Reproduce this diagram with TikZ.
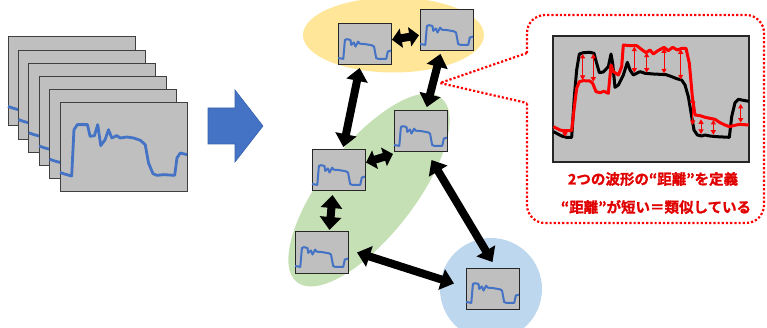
\documentclass[tikz,border=0pt]{standalone}
\usepackage{fontspec}
\IfFontExistsTF{Noto Sans CJK JP Black}
  {\newfontfamily\jp{Noto Sans CJK JP Black}[FakeBold=1.2]}
  {\newfontfamily\jp{Noto Sans CJK JP}[BoldFeatures={FakeBold=1.5}]}
\usetikzlibrary{arrows.meta,calc}
\definecolor{boxgray}{HTML}{BFBFBF}
\definecolor{wblue}{HTML}{4472C4}
\definecolor{wblueline}{HTML}{3A62AD}
\definecolor{groupyellow}{HTML}{FFE699}
\definecolor{groupgreen}{HTML}{C5E0B4}
\definecolor{groupblue}{HTML}{BDD7EE}
\definecolor{textred}{HTML}{E00000}

\tikzset{
  frame/.style={draw=black!75, fill=boxgray, line width=1pt, minimum width=127pt,
    minimum height=89pt, inner sep=0pt, outer sep=0pt, anchor=north west},
  thumb/.style={draw=black!85, fill=boxgray, line width=1pt, minimum width=53pt,
    minimum height=41pt, inner sep=0pt, outer sep=0pt, anchor=north west},
  wave/.style={draw=wblue, line join=round},
  link/.style={line width=8pt, {Triangle[length=13pt,width=21pt]}-{Triangle[length=13pt,width=21pt]}},
  shortlink/.style={line width=8pt, {Triangle[length=9.5pt,width=19pt]}-{Triangle[length=9.5pt,width=19pt]}},
  gap/.style={draw=red, line width=1pt, {Triangle[length=4.5pt,width=5pt]}-{Triangle[length=4.5pt,width=5pt]}},
  dotline/.style={draw=red, line width=2.2pt, dash pattern=on 2.2pt off 2pt},
  caption/.style={font=\jp\bfseries\fontsize{14.5}{16}\selectfont, inner sep=0pt}
}
% normalised waveform shapes
\newcommand\bigwave{(0,0.78) (0.04,0.80) (0.092,0.82) (0.11,0.30) (0.137,0.243) (0.216,0.243)
  (0.237,0.375) (0.271,0.367) (0.297,0.243) (0.321,0.479) (0.355,0.412) (0.382,0.300)
  (0.408,0.393) (0.447,0.367) (0.474,0.393) (0.526,0.382) (0.579,0.393) (0.632,0.419)
  (0.671,0.468) (0.697,0.674) (0.732,0.794) (0.763,0.813) (0.816,0.805) (0.903,0.813)
  (0.921,0.618) (0.947,0.562) (1.0,0.58)}
\newcommand\smallwave{(0,0.83) (0.1,0.85) (0.13,0.39) (0.17,0.37) (0.235,0.39) (0.25,0.51)
  (0.3,0.45) (0.33,0.55) (0.38,0.43) (0.41,0.48) (0.51,0.49) (0.64,0.52) (0.68,0.55)
  (0.72,0.83) (0.76,0.85) (0.91,0.85) (0.94,0.67) (1,0.65)}
% thumbnail: node name, north-west corner
\newcommand\thumbnail[3]{%
  \node[thumb] (#1) at (#2,#3) {};
  \begin{scope}[shift={(#1.north west)}, xscale=53, yscale=41]
    \draw[wave, line width=2pt] plot coordinates {\smallwave};
  \end{scope}}

\begin{document}
\begin{tikzpicture}[x=1pt, y=-1pt]
\useasboundingbox (0,0) rectangle (767,328);

% stack of recorded waveforms
\foreach \i in {0,...,5} {
  \node[frame] (frame\i) at ({8+10.4*\i},{37+13.2*\i}) {};
  \begin{scope}[shift={(frame\i.north west)}, xscale=127, yscale=89]
    \draw[wave, line width=2.8pt] plot coordinates {\bigwave};
  \end{scope}
}

% block arrow
\filldraw[fill=wblue, draw=wblueline, line width=0.6pt]
  (208,108) -- (235,108) -- (235,90) -- (263,126) -- (235,162) -- (235,144) -- (208,144) -- cycle;

% groups
\fill[groupyellow] (393.5,35) ellipse [x radius=90.5, y radius=37.5];
\fill[groupgreen, rotate around={52:(369,190)}] (369,190) ellipse [x radius=117, y radius=46];
\fill[groupblue] (491,289) ellipse [x radius=51, y radius=51];

% thumbnails
\thumbnail{A}{338}{24}
\thumbnail{B}{420}{10}
\thumbnail{C}{394}{111}
\thumbnail{D}{312}{150}
\thumbnail{E}{295}{232}
\thumbnail{F}{466}{268}

% pairwise links
\draw[shortlink, shorten <=1pt, shorten >=1pt] (A) -- (B);
\draw[link, shorten <=3pt, shorten >=3pt] (A) -- (D);
\draw[link, shorten <=3pt, shorten >=4pt] (B) -- (C);
\draw[shortlink] ($(D.east)+(1,-8)$) -- ($(C.south west)+(-1,2)$);
\draw[link] ($(D.south)+(-6,4)$) -- ($(E.north)+(8,-2)$);
\draw[link] ($(E.east)+(9,0)$) -- ($(F.west)+(-12,-5)$);
\draw[link] ($(C.south)+(11,8)$) -- ($(F.north)+(0,-6)$);

% callout
\coordinate (tip) at (440,83);
\draw[dotline, rounded corners=18pt] (527,53) -- (527,15) -- (764,15) -- (764,223)
  -- (527,223) -- (527,103);
\draw[dotline] (527,53) -- (tip) -- (527,103);

% distance between two waveforms
\node[draw=black!85, fill=boxgray, line width=1.4pt, minimum width=196pt, minimum height=126pt,
  inner sep=0pt, outer sep=0pt, anchor=north west] (chart) at (553,36) {};
\begin{scope}[shift={(540,30)}, scale=0.33333]
  \draw[black, line width=3pt, line join=round] plot coordinates {
    (40,305) (65,318) (80,322) (95,322) (103,200) (110,120) (118,72) (130,68) (150,67)
    (162,70) (170,100) (178,128) (190,126) (205,110) (213,72) (218,100) (225,172) (235,165)
    (250,135) (262,97) (270,120) (280,135) (290,130) (300,125) (315,130) (340,132) (360,133)
    (378,134) (395,140) (410,146) (425,150) (435,165) (445,200) (455,260) (462,300) (472,315)
    (485,318) (495,315) (510,318) (530,320) (568,322) (575,260) (585,218) (595,208) (626,214)};
  \draw[red, line width=3pt, line join=round] plot coordinates {
    (40,290) (60,300) (70,302) (80,302) (95,302) (103,230) (110,175) (118,155) (130,152)
    (150,153) (158,160) (168,185) (180,188) (192,184) (205,190) (213,105) (220,125) (235,135)
    (245,110) (250,45) (270,47) (290,47) (303,57) (318,68) (330,60) (340,72) (352,63) (372,52)
    (385,62) (398,52) (412,60) (425,55) (438,55) (448,100) (457,200) (465,255) (480,257)
    (495,262) (510,265) (525,268) (540,278) (555,285) (568,290) (580,287) (598,283) (626,285)};
  \draw[gap] (75,300) -- (75,320);
  \draw[gap] (128,72) -- (128,150);
  \draw[gap] (160,72) -- (160,155);
  \draw[gap] (283,50) -- (283,128);
  \draw[gap] (320,68) -- (320,128);
  \draw[gap] (372,55) -- (372,130);
  \draw[gap] (422,58) -- (422,148);
  \draw[gap] (458,205) -- (458,285);
  \draw[gap] (483,268) -- (483,312);
  \draw[gap] (520,270) -- (520,314);
  \draw[gap] (602,222) -- (602,278);
\end{scope}

% caption
\node[caption, text=textred] (cap1) at (653,179) {2つの波形の“距離”を定義};
\node[caption, text=textred] (cap2) at (656,207) {“距離”が短い＝類似している};
\end{tikzpicture}
\end{document}
